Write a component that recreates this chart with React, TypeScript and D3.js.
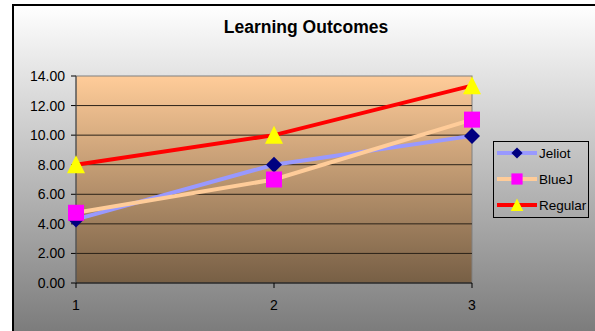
import React from "react";
import * as d3 from "d3";

const categories = ["1", "2", "3"];
const jeliot = [4.3, 8.0, 9.95];
const bluej = [4.75, 7.0, 11.05];
const regular = [8.0, 10.0, 13.35];
const yTicks = [0, 2, 4, 6, 8, 10, 12, 14];
const seriesNames = ["Jeliot", "BlueJ", "Regular"];

const W = 595, H = 331;
const plot = { left: 76, right: 472, top: 76, bottom: 283 };
const font = "'Liberation Sans', Arial, sans-serif";

export default function App() {
  const x = d3.scalePoint<string>().domain(categories).range([plot.left, plot.right]);
  const y = d3.scaleLinear().domain([0, 14]).range([plot.bottom, plot.top]);
  const line = d3.line<number>().x((_, i) => x(categories[i])!).y((d) => y(d));

  const series = [
    { name: seriesNames[0], data: jeliot, color: "#9999FF", marker: "diamond", mcolor: "#000080" },
    { name: seriesNames[1], data: bluej, color: "#FFCC99", marker: "square", mcolor: "#FF00FF" },
    { name: seriesNames[2], data: regular, color: "#FF0000", marker: "triangle", mcolor: "#FFFF00" },
  ];

  const marker = (type: string, cx: number, cy: number, fill: string, s = 1, key?: string) => {
    if (type === "diamond") {
      const r = 8 * s;
      return <path key={key} d={`M${cx},${cy - r}L${cx + r},${cy}L${cx},${cy + r}L${cx - r},${cy}Z`} fill={fill} />;
    }
    if (type === "square") {
      const r = 8 * s;
      return <rect key={key} x={cx - r} y={cy - r} width={2 * r} height={2 * r} fill={fill} />;
    }
    const r = 9 * s;
    return <path key={key} d={`M${cx},${cy - r * 1.05}L${cx + r},${cy + r * 0.95}L${cx - r},${cy + r * 0.95}Z`} fill={fill} />;
  };

  return (
    <svg width={W} height={H} style={{ position: "absolute", left: 0, top: 0 }}>
      <defs>
        <linearGradient id="bg" x1="0" y1="0" x2="0" y2="1">
          <stop offset="0" stopColor="#ffffff" />
          <stop offset="1" stopColor="#7a7a7a" />
        </linearGradient>
        <linearGradient id="pa" x1="0" y1="0" x2="0" y2="1">
          <stop offset="0" stopColor="#FFCC99" />
          <stop offset="1" stopColor="#775f45" />
        </linearGradient>
      </defs>
      <rect x={0} y={0} width={W} height={H} fill="#ffffff" />
      <rect x={13} y={5} width={W} height={H} fill="url(#bg)" />
      <path d={`M13,${H}V5H${W}`} fill="none" stroke="#000" strokeWidth={2} />
      <text x={306} y={33} textAnchor="middle" fontFamily={font} fontWeight="bold" fontSize={17.5}>
        Learning Outcomes
      </text>
      <rect x={plot.left} y={plot.top} width={plot.right - plot.left} height={plot.bottom - plot.top} fill="url(#pa)" stroke="#808080" strokeWidth={1} />
      {yTicks.map((t) => (
        <g key={t}>
          {t > 0 && t < 14 && (
            <line x1={plot.left} x2={plot.right} y1={y(t)} y2={y(t)} stroke="#2b2218" strokeWidth={1} />
          )}
          <line x1={plot.left - 5} x2={plot.left} y1={y(t)} y2={y(t)} stroke="#000" />
          <text x={65} y={y(t) + 5} textAnchor="end" fontFamily={font} fontSize={14} fill="#000">
            {t.toFixed(2)}
          </text>
        </g>
      ))}
      <line x1={plot.left} x2={plot.left} y1={plot.top} y2={plot.bottom} stroke="#404040" strokeWidth={1} />
      <line x1={plot.left} x2={plot.right} y1={plot.bottom} y2={plot.bottom} stroke="#000" strokeWidth={1} />
      {categories.map((c) => (
        <g key={c}>
          <line x1={x(c)} x2={x(c)} y1={plot.bottom} y2={plot.bottom + 5} stroke="#000" />
          <text x={x(c)} y={310} textAnchor="middle" fontFamily={font} fontSize={14}>
            {c}
          </text>
        </g>
      ))}
      {series.map((s) => (
        <path key={s.name} d={line(s.data)!} fill="none" stroke={s.color} strokeWidth={4} />
      ))}
      {series.map((s) =>
        s.data.map((v, i) => marker(s.marker, x(categories[i])!, y(v), s.mcolor, 1, `${s.name}${i}`))
      )}
      <rect x={493.5} y={141.5} width={95} height={76} fill="none" stroke="#000" strokeWidth={1} />
      {series.map((s, i) => {
        const ly = 153 + i * 26;
        return (
          <g key={s.name}>
            <line x1={497} x2={537} y1={ly} y2={ly} stroke={s.color} strokeWidth={4} />
            {marker(s.marker, 517, ly, s.mcolor, 0.7)}
            <text x={539} y={ly + 5} fontFamily={font} fontSize={13.5}>
              {s.name}
            </text>
          </g>
        );
      })}
    </svg>
  );
}
